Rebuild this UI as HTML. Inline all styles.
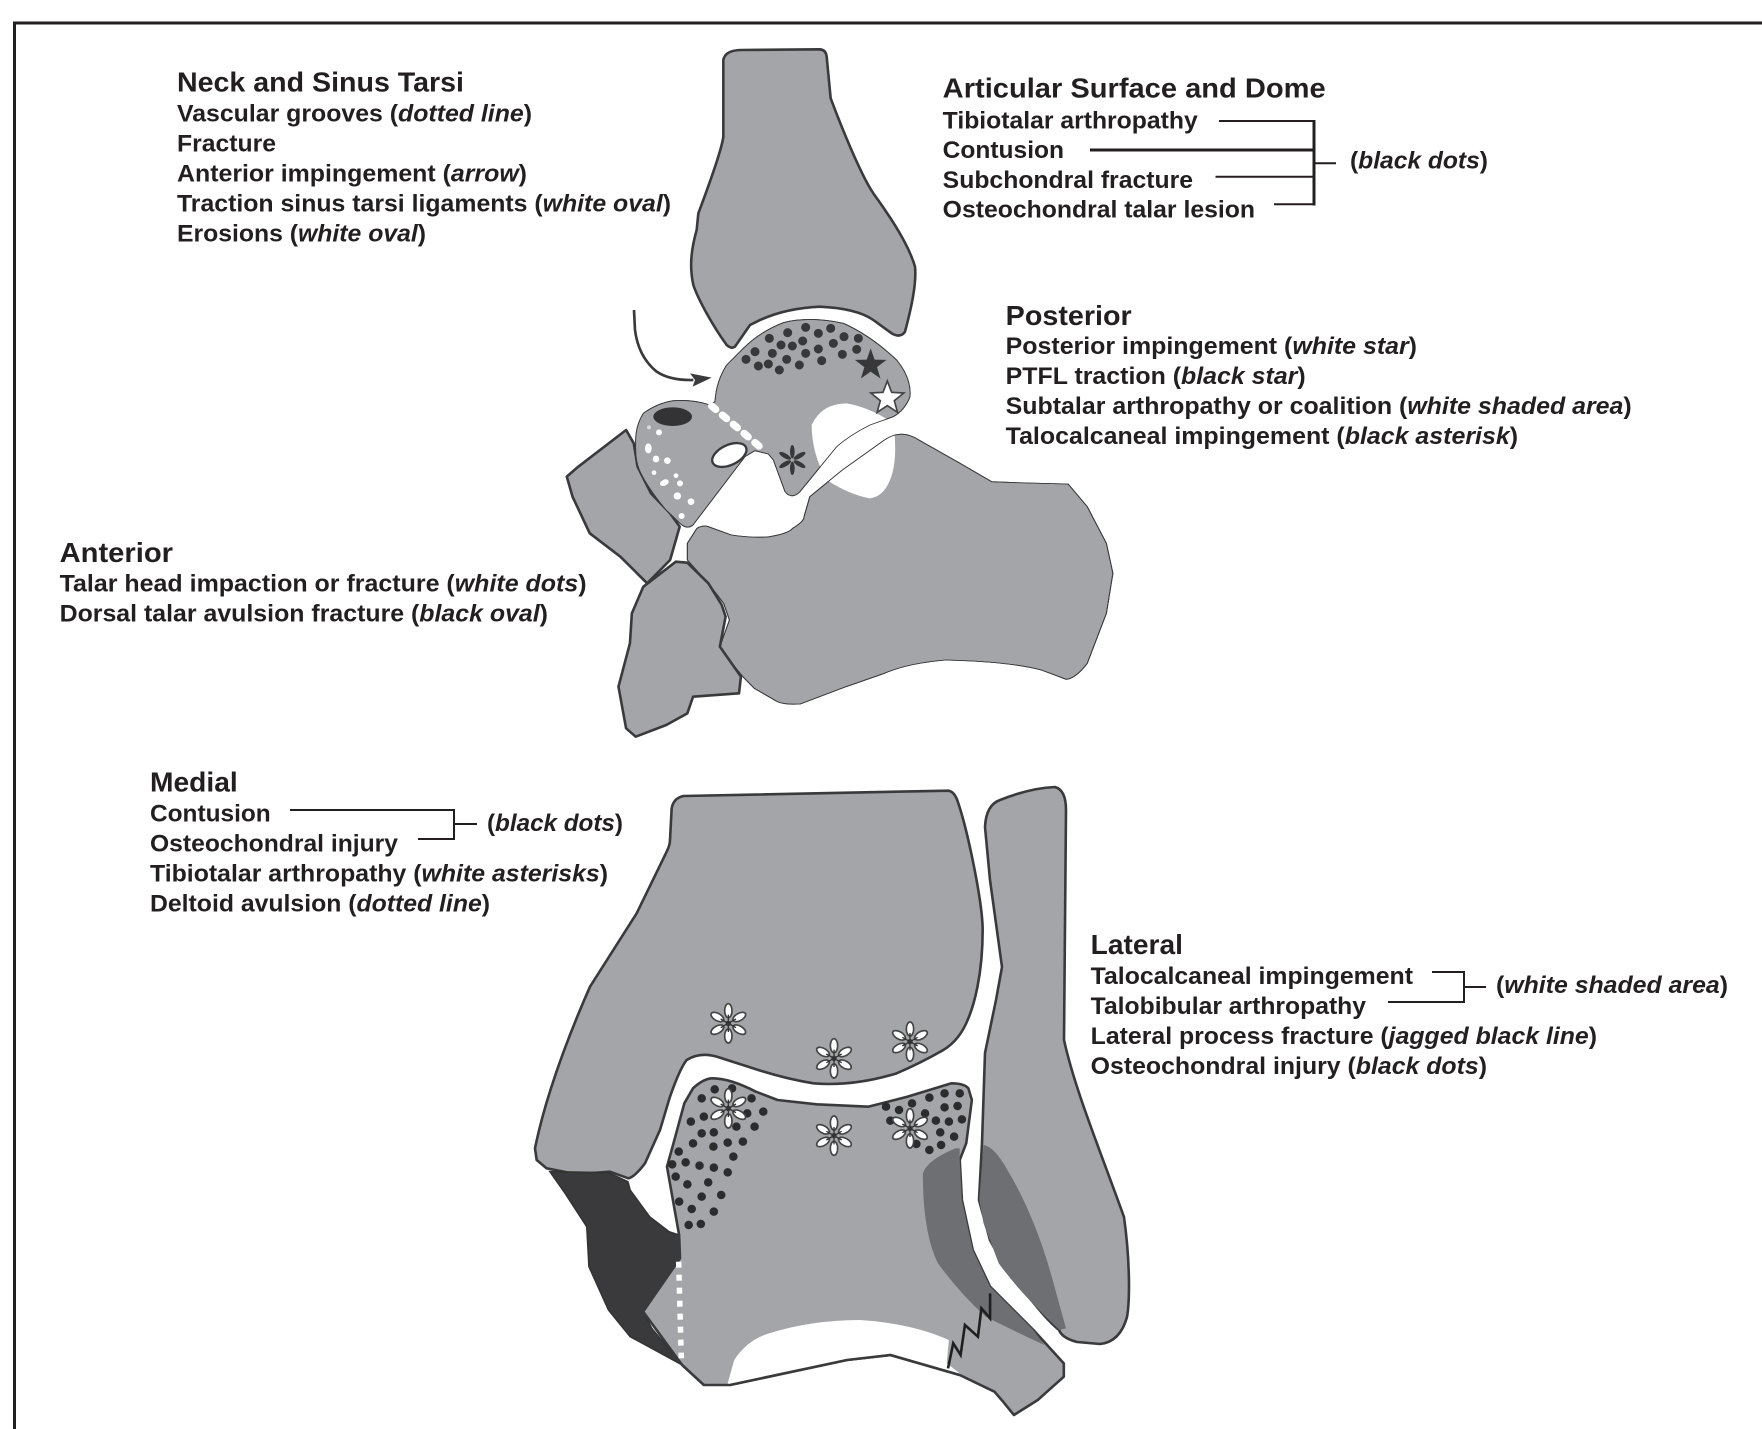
<!DOCTYPE html>
<html><head><meta charset="utf-8"><style>
html,body{margin:0;padding:0;background:#fff}
svg{display:block}
text{font-family:"Liberation Sans",Arial,sans-serif;font-weight:bold;fill:#231f20;font-size:24px}
text.h{font-size:27.5px}
tspan.i{font-style:italic}
.o,.o *{vector-effect:non-scaling-stroke}
.b{fill:#a3a5a8;stroke:#3a3a3c;stroke-width:2.6;stroke-linejoin:round}
.l{stroke:#231f20;stroke-width:2;fill:none}
</style></head><body>
<svg width="1762" height="1429" viewBox="0 0 1762 1429" xmlns="http://www.w3.org/2000/svg">
<defs>
<path id="talus" d="M255,275 Q258,215 290,165 L340,115 Q390,65 460,38 Q540,18 640,40 Q720,75 800,150 Q845,205 840,260 Q825,300 790,320 L720,345 Q660,375 620,410 L510,545 Q485,570 465,545 L430,450 L415,432 L375,422 L345,440 L189,645 Q170,660 150,640 L108,600 Q50,530 28,480 Q15,450 17,400 Q15,350 40,310 Q80,280 130,272 Q190,268 240,285 Z"/>
<path id="calc" d="M385,790 L410,745 Q425,735 440,740 L500,765 Q560,775 600,770 Q650,760 660,745 Q690,725 690,710 L705,650 L790,570 L900,480 Q945,445 990,480 L1090,545 L1180,605 Q1280,610 1380,612 L1430,680 L1480,790 L1497,880 L1480,1000 L1430,1150 Q1400,1195 1375,1198 L1310,1170 Q1230,1145 1060,1140 Q960,1150 900,1180 L800,1220 L680,1272 Q640,1275 620,1265 L560,1225 L530,1190 L480,1120 L470,1100 L495,1020 L480,970 L440,910 L385,840 Z"/>
<g id="f">
<g fill="#fff" stroke="#444" stroke-width="5">
<ellipse cy="-38" rx="11" ry="21"/>
<ellipse cy="-38" rx="11" ry="21" transform="rotate(60)"/>
<ellipse cy="-38" rx="11" ry="21" transform="rotate(120)"/>
<ellipse cy="-38" rx="11" ry="21" transform="rotate(180)"/>
<ellipse cy="-38" rx="11" ry="21" transform="rotate(240)"/>
<ellipse cy="-38" rx="11" ry="21" transform="rotate(300)"/>
</g>
<circle r="8" fill="#333"/>
<g stroke="#333" stroke-width="4"><path d="M0,-26V26M-23,-13L23,13M-23,13L23,-13"/></g>
</g>
<ellipse id="p" cy="-25" rx="7" ry="20" fill="#38383a"/>
</defs>

<path d="M14.5,1429V23H1762" fill="none" stroke="#231f20" stroke-width="3"/>

<!-- upper tibia -->
<g transform="translate(660,30) scale(.33333)" class="o">
<path class="b" d="M190,90 Q195,62 240,60 L480,58 Q498,60 500,80 L512,205 C540,280 600,430 640,490 C680,545 745,640 765,710 C770,760 755,830 735,905 Q722,925 695,910 L640,870 Q590,835 480,830 Q370,835 290,875 L270,885 L225,950 Q215,958 200,945 C160,890 115,810 100,765 C90,720 90,670 110,600 L115,550 C145,470 185,360 190,320 Z"/>
</g>

<!-- foot bones -->
<g transform="translate(540,280) scale(.3827,.33333)" class="o">
<path class="b" d="M70,590 L100,560 L225,450 L245,490 L255,560 L290,640 L340,700 L365,740 L340,840 L280,910 L210,830 L130,760 L85,650 Z"/>
<use href="#calc" class="b"/>
<path class="b" d="M355,845 L385,848 L440,910 L475,975 L485,1010 L470,1100 L525,1190 L520,1240 L400,1250 L385,1300 L330,1335 L250,1370 L225,1345 L205,1220 L235,1090 L240,1000 L270,920 Z"/>
</g>
<g transform="translate(630,310) scale(.33333)" class="o">
<use href="#talus" class="b"/>
<path fill="#fff" d="M545,345 Q575,280 650,280 Q720,292 790,340 Q805,450 780,510 Q760,560 720,565 Q660,555 590,510 Q545,430 545,345 Z"/>
</g>
<g transform="translate(540,280) scale(.3827,.33333)" class="o"><use href="#calc" fill="none" stroke="#3a3a3c" stroke-width="2.6" stroke-linejoin="round"/></g>
<g transform="translate(630,310) scale(.33333)">
<g class="o"><use href="#talus" fill="none" stroke="#3a3a3c" stroke-width="2.6" stroke-linejoin="round"/></g>
<path stroke="#38383a" stroke-width="27" stroke-linecap="round" fill="none" d="M348,148h.1M375,125h.1M385,168h.1M415,162h.1M418,85h.1M427,130h.1M448,180h.1M453,105h.1M470,148h.1M473,68h.1M487,108h.1M508,165h.1M518,93h.1M527,130h.1M527,52h.1M565,70h.1M565,117h.1M575,152h.1M602,55h.1M610,100h.1M637,133h.1M642,80h.1M680,118h.1M685,85h.1"/>
<polygon fill="#38383a" points="722,115 733.8,148.8 769.6,149.5 741,171.2 751.4,205.5 722,185 692.6,205.5 703,171.2 674.4,149.5 710.2,148.8"/>
<polygon fill="#fff" stroke="#444" stroke-width="5" points="772,213 785,247 821.5,249 793,272 802.6,307 772,287 741.4,307 751,272 722.5,249 759,247"/>
<g transform="translate(487,450)"><use href="#p"/><use href="#p" transform="rotate(60)"/><use href="#p" transform="rotate(120)"/><use href="#p" transform="rotate(180)"/><use href="#p" transform="rotate(240)"/><use href="#p" transform="rotate(300)"/></g>
<ellipse cx="128" cy="320" rx="58" ry="28" fill="#333335"/>
<ellipse cx="298" cy="435" rx="55" ry="30" fill="#fff" stroke="#3a3a3c" stroke-width="7" transform="rotate(-25 298 435)"/>
<g fill="#fff"><ellipse cx="55" cy="415" rx="10" ry="15"/><circle cx="57" cy="352" r="6" opacity=".6"/><circle cx="87" cy="367" r="9"/><circle cx="78" cy="447" r="10"/><circle cx="112" cy="452" r="10"/><circle cx="72" cy="488" r="7"/><circle cx="138" cy="497" r="7"/><ellipse cx="103" cy="518" rx="14" ry="9" transform="rotate(-25 103 518)"/><circle cx="150" cy="520" r="9"/><circle cx="142" cy="558" r="11"/><circle cx="183" cy="575" r="10"/><circle cx="155" cy="618" r="9"/></g>
<path d="M245,288L407,425" stroke="#fff" stroke-width="22" stroke-linecap="round" stroke-dasharray="16 26.5" fill="none"/>
<path d="M12,0 L15,60 Q25,140 80,185 Q120,212 190,210" fill="none" stroke="#3a3a3c" stroke-width="8"/>
<path d="M245,203 L180,190 L195,210 L188,230 Z" fill="#3a3a3c"/>
</g>

<!-- lower tibia -->
<g transform="translate(520,770) scale(.33333)" class="o">
<path class="b" d="M455,115 Q460,85 490,78 L1285,62 Q1305,65 1315,100 C1345,190 1388,400 1388,480 C1388,620 1360,710 1345,745 Q1320,810 1270,840 Q1200,880 1130,910 Q1000,950 880,940 Q790,925 700,895 L590,860 Q540,845 500,870 Q480,895 450,980 L420,1080 L375,1180 Q345,1220 325,1225 L270,1205 L170,1213 L80,1195 L50,1170 L45,1135 C60,1060 100,900 210,650 L350,430 L440,245 Q450,225 450,210 Z"/>
</g>

<!-- fibula (image coordinates) -->
<g class="o">
<path class="b" d="M985,827 Q986,805 1000,800 Q1030,788 1055,787 Q1066,790 1066,810 L1064,1040 C1075,1090 1100,1150 1124,1217 C1130,1260 1130,1300 1127,1317 Q1120,1342 1100,1344 L1077,1342 Q1062,1338 1059,1330 C1040,1315 1000,1260 990,1240 L979,1200 L982,1143 L985,1053 L996,1000 L1002,967 L990,880 Z"/>
</g>

<!-- lower talus and shading -->
<g transform="translate(500,1000) scale(.4337,.33333)" class="o">
<path fill="#6d6f72" d="M1115,435 Q1140,440 1170,510 Q1230,640 1270,820 L1305,985 L1290,990 Q1200,880 1150,790 L1115,670 L1105,600 Z"/>
<path fill="#3a3a3c" stroke="#333" stroke-width="1.5" d="M115,515 L250,518 L295,545 L300,570 L345,650 L390,695 L413,705 L415,775 L330,935 L350,985 L420,1095 L300,1010 L250,930 L205,800 L200,680 L150,580 Z"/>
<path class="b" d="M413,705 L400,610 L385,500 L400,430 L425,310 L445,265 Q470,235 490,235 Q530,235 590,275 L640,300 L730,313 L850,320 L940,290 L1040,250 Q1070,250 1080,265 L1088,300 L1075,430 L1060,480 L1065,600 L1090,750 L1130,860 L1230,990 L1300,1090 L1300,1130 L1240,1200 L1185,1245 L1160,1205 L1140,1175 L1060,1125 L900,1065 L800,1080 L530,1155 L470,1155 L420,1095 L330,935 L415,775 Z"/>
<path fill="#6d6f72" d="M975,520 Q985,480 1050,445 L1060,445 L1060,480 L1065,600 L1090,750 L1130,860 L1230,990 L1255,1035 Q1180,990 1120,950 Q1060,880 1010,790 Q975,700 975,520 Z"/>
<path fill="#fff" d="M525,1150 L540,1080 Q570,1020 620,1000 Q720,960 830,960 Q950,970 1035,1020 L1030,1090 L1062,1122 L900,1062 L800,1078 L530,1152 Z"/>
<path fill="none" stroke="#3a3a3c" stroke-width="2.6" d="M530,1155 L800,1080 L900,1065 L1060,1125"/>
<path fill="none" stroke="#1f1f20" stroke-width="2.6" stroke-linejoin="miter" d="M1033,1105 L1045,1030 L1062,1065 L1072,975 L1102,1010 L1110,925 L1130,955 L1130,880"/>
<path fill="none" stroke="#2c2c2e" stroke-width="8.5" stroke-linecap="round" d="M495,268h.1M465,295h.1M535,265h.1M580,295h.1M440,365h.1M470,350h.1M607,335h.1M570,340h.1M545,380h.1M587,380h.1M465,400h.1M493,397h.1M445,430h.1M492,440h.1M525,428h.1M560,425h.1M412,455h.1M538,470h.1M397,493h.1M428,487h.1M460,497h.1M493,503h.1M525,517h.1M405,530h.1M432,553h.1M480,547h.1M510,585h.1M465,590h.1M413,605h.1M442,627h.1M493,635h.1M435,675h.1M463,672h.1M890,320h.1M920,330h.1M950,310h.1M990,293h.1M1025,280h.1M1060,280h.1M1025,322h.1M1055,318h.1M900,362h.1M980,340h.1M1005,362h.1M1035,365h.1M1065,358h.1M1015,397h.1M1047,410h.1M960,432h.1M990,450h.1M1017,435h.1"/>
<path fill="none" stroke="#fff" stroke-width="5.5" stroke-dasharray="6 7" d="M412,785 L418,1075"/>
</g>

<!-- white asterisks -->
<g transform="translate(520,770) scale(.33333)">
<use href="#f" x="625" y="760"/><use href="#f" x="942" y="865"/><use href="#f" x="1170" y="815"/>
<use href="#f" x="625" y="1015"/><use href="#f" x="942" y="1097"/><use href="#f" x="1170" y="1075"/>
</g>

<!-- connector lines -->
<path class="l" d="M1219,121H1314M1215.5,176.7H1314M1274,204.3H1314M1314,163.3H1336"/>
<path class="l" style="stroke-width:3" d="M1090,150H1314M1314,120V205.5"/>
<path class="l" d="M290,810H454V839H418M454,824H477"/>
<path class="l" d="M1432,972H1464V1002H1388M1464,987H1486"/>

<!-- Neck -->
<text class="h" x="177" y="91.7" textLength="287" lengthAdjust="spacingAndGlyphs">Neck and Sinus Tarsi</text>
<text x="177" y="121.7" textLength="355" lengthAdjust="spacingAndGlyphs">Vascular grooves (<tspan class="i">dotted line</tspan>)</text>
<text x="177" y="151.7" textLength="99" lengthAdjust="spacingAndGlyphs">Fracture</text>
<text x="177" y="181.7" textLength="350" lengthAdjust="spacingAndGlyphs">Anterior impingement (<tspan class="i">arrow</tspan>)</text>
<text x="177" y="211.7" textLength="494" lengthAdjust="spacingAndGlyphs">Traction sinus tarsi ligaments (<tspan class="i">white oval</tspan>)</text>
<text x="177" y="241.7" textLength="249" lengthAdjust="spacingAndGlyphs">Erosions (<tspan class="i">white oval</tspan>)</text>

<!-- Articular -->
<text class="h" x="942.7" y="97.7" textLength="383" lengthAdjust="spacingAndGlyphs">Articular Surface and Dome</text>
<text x="942.7" y="128.3" textLength="255" lengthAdjust="spacingAndGlyphs">Tibiotalar arthropathy</text>
<text x="942.7" y="158" textLength="121.3" lengthAdjust="spacingAndGlyphs">Contusion</text>
<text x="942.7" y="188" textLength="250.3" lengthAdjust="spacingAndGlyphs">Subchondral fracture</text>
<text x="942.7" y="217.5" textLength="312.3" lengthAdjust="spacingAndGlyphs">Osteochondral talar lesion</text>
<text x="1350" y="168.5" textLength="138" lengthAdjust="spacingAndGlyphs">(<tspan class="i">black dots</tspan>)</text>

<!-- Posterior -->
<text class="h" x="1005.7" y="325" textLength="126" lengthAdjust="spacingAndGlyphs">Posterior</text>
<text x="1005.7" y="354" textLength="411.3" lengthAdjust="spacingAndGlyphs">Posterior impingement (<tspan class="i">white star</tspan>)</text>
<text x="1005.7" y="384" textLength="300" lengthAdjust="spacingAndGlyphs">PTFL traction (<tspan class="i">black star</tspan>)</text>
<text x="1005.7" y="414" textLength="626" lengthAdjust="spacingAndGlyphs">Subtalar arthropathy or coalition (<tspan class="i">white shaded area</tspan>)</text>
<text x="1005.7" y="444" textLength="512.3" lengthAdjust="spacingAndGlyphs">Talocalcaneal impingement (<tspan class="i">black asterisk</tspan>)</text>

<!-- Anterior -->
<text class="h" x="59.6" y="562" textLength="113.4" lengthAdjust="spacingAndGlyphs">Anterior</text>
<text x="59.6" y="591.7" textLength="527" lengthAdjust="spacingAndGlyphs">Talar head impaction or fracture (<tspan class="i">white dots</tspan>)</text>
<text x="59.6" y="621.7" textLength="488.4" lengthAdjust="spacingAndGlyphs">Dorsal talar avulsion fracture (<tspan class="i">black oval</tspan>)</text>

<!-- Medial -->
<text class="h" x="150" y="791.7" textLength="87.7" lengthAdjust="spacingAndGlyphs">Medial</text>
<text x="150" y="821.7" textLength="120.7" lengthAdjust="spacingAndGlyphs">Contusion</text>
<text x="150" y="851.7" textLength="248" lengthAdjust="spacingAndGlyphs">Osteochondral injury</text>
<text x="150" y="881.7" textLength="458" lengthAdjust="spacingAndGlyphs">Tibiotalar arthropathy (<tspan class="i">white asterisks</tspan>)</text>
<text x="150" y="911.7" textLength="340" lengthAdjust="spacingAndGlyphs">Deltoid avulsion (<tspan class="i">dotted line</tspan>)</text>
<text x="487" y="831" textLength="136" lengthAdjust="spacingAndGlyphs">(<tspan class="i">black dots</tspan>)</text>

<!-- Lateral -->
<text class="h" x="1090.7" y="954" textLength="92.3" lengthAdjust="spacingAndGlyphs">Lateral</text>
<text x="1090.7" y="984" textLength="322.3" lengthAdjust="spacingAndGlyphs">Talocalcaneal impingement</text>
<text x="1090.7" y="1014" textLength="275.3" lengthAdjust="spacingAndGlyphs">Talobibular arthropathy</text>
<text x="1090.7" y="1044" textLength="506.3" lengthAdjust="spacingAndGlyphs">Lateral process fracture (<tspan class="i">jagged black line</tspan>)</text>
<text x="1090.7" y="1074" textLength="396.3" lengthAdjust="spacingAndGlyphs">Osteochondral injury (<tspan class="i">black dots</tspan>)</text>
<text x="1496" y="993" textLength="232" lengthAdjust="spacingAndGlyphs">(<tspan class="i">white shaded area</tspan>)</text>
</svg>
</body></html>
